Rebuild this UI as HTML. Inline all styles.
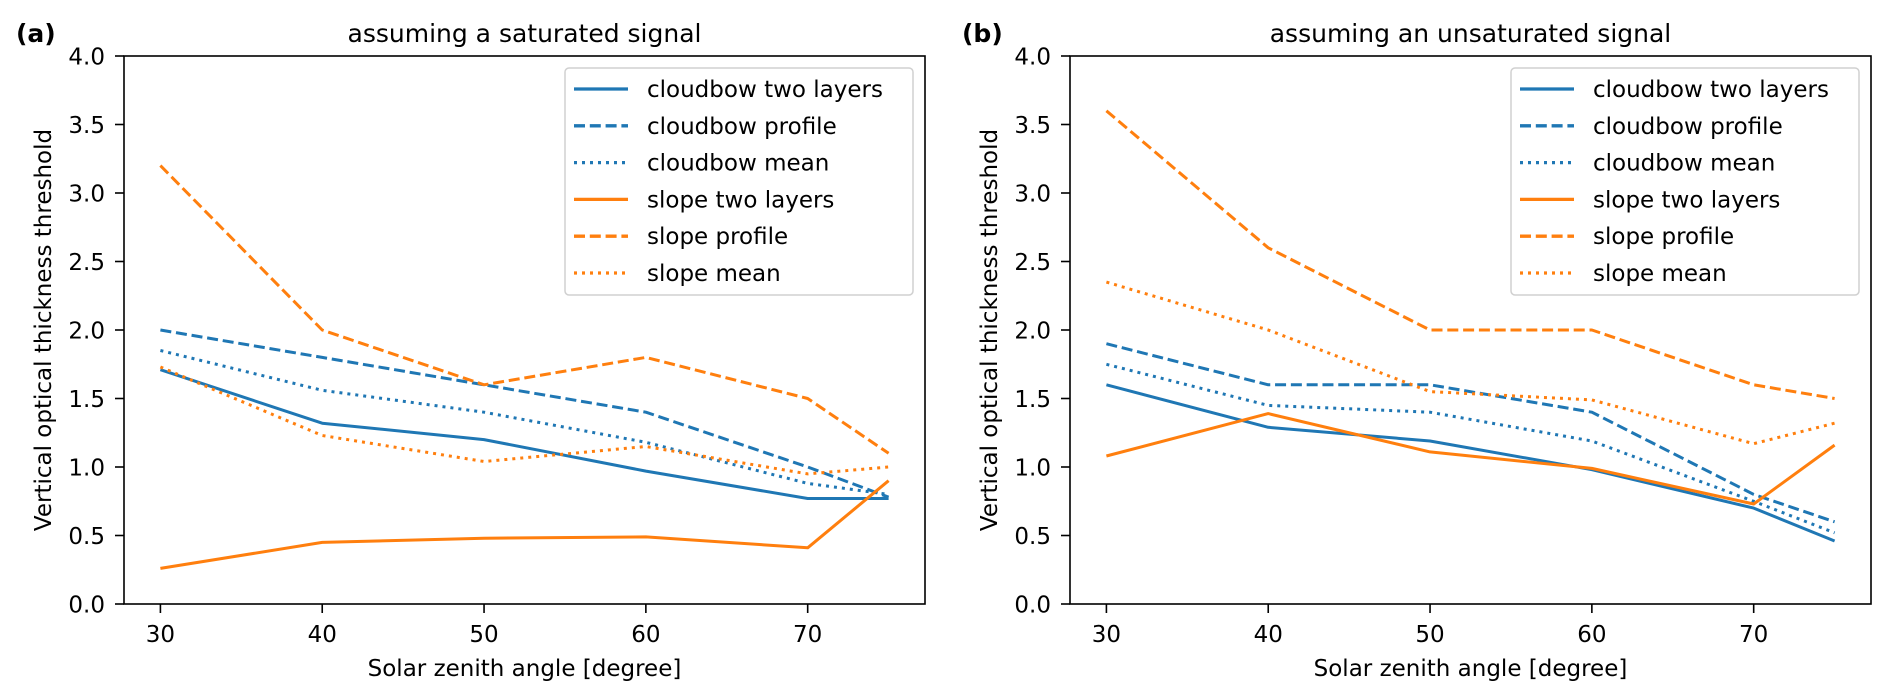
<!DOCTYPE html>
<html><head><meta charset="utf-8"><style>
html,body{margin:0;padding:0;background:#fff}
svg{display:block;font-family:"DejaVu Sans","Liberation Sans",sans-serif}
</style></head><body>
<svg id="chart" width="1892" height="700" viewBox="0 0 1892 700" xmlns="http://www.w3.org/2000/svg"></svg>
<script>
const xCats = [30, 40, 50, 60, 70, 75];
const xTicks = [30, 40, 50, 60, 70];
const yTicks = [0, 0.5, 1, 1.5, 2, 2.5, 3, 3.5, 4];
const seriesNames = ["cloudbow two layers","cloudbow profile","cloudbow mean","slope two layers","slope profile","slope mean"];
const a_cbTwo = [1.71,1.32,1.2,0.97,0.77,0.77];
const a_cbProf = [2.0,1.8,1.6,1.4,1.0,0.78];
const a_cbMean = [1.85,1.56,1.4,1.18,0.88,0.8];
const a_slTwo = [0.26,0.45,0.48,0.49,0.41,0.9];
const a_slProf = [3.2,2.0,1.6,1.8,1.5,1.1];
const a_slMean = [1.73,1.23,1.04,1.15,0.95,1.0];
const b_cbTwo = [1.6,1.29,1.19,0.98,0.7,0.46];
const b_cbProf = [1.9,1.6,1.6,1.4,0.8,0.6];
const b_cbMean = [1.75,1.45,1.4,1.19,0.75,0.52];
const b_slTwo = [1.08,1.39,1.11,0.99,0.73,1.16];
const b_slProf = [3.6,2.6,2.0,2.0,1.6,1.5];
const b_slMean = [2.35,2.0,1.55,1.49,1.17,1.32];

const NS="http://www.w3.org/2000/svg";
const svg=document.getElementById('chart');
function el(tag,attrs,parent,text){const e=document.createElementNS(NS,tag);for(const k in attrs)e.setAttribute(k,attrs[k]);if(text!==undefined)e.textContent=text;(parent||svg).appendChild(e);return e;}
const BLUE="#1f77b4",ORANGE="#ff7f0e";
const styles=[[BLUE,""],[BLUE,"11,4.8"],[BLUE,"3,5"],[ORANGE,""],[ORANGE,"11,4.8"],[ORANGE,"3,5"]];

function panel(pid,L,R,T,B,title,tag,series){
  const g=el('g',{});
  
  
  const xmin=27.75,xmax=77.25;
  const xs=v=>L+(v-xmin)/(xmax-xmin)*(R-L);
  const ys=v=>B-v/4*(B-T);
  series.forEach((s,i)=>{
    const pts=s.map((v,j)=>xs(xCats[j]).toFixed(1)+','+ys(v).toFixed(1)).join(' ');
    const p=el('polyline',{points:pts,fill:'none',stroke:styles[i][0],'stroke-width':3,'stroke-dasharray':styles[i][1],'stroke-linejoin':'round'},g);
    
    
  });
  const box=el('rect',{x:L,y:T,width:R-L,height:B-T,fill:'none',stroke:'#000','stroke-width':1.6},g);
  
  
  xTicks.forEach(t=>{
    const x=xs(t);
    el('line',{x1:x,x2:x,y1:B,y2:B+9,stroke:'#000','stroke-width':1.6},g);
    const tl=el('text',{x:x,y:B+38,'font-size':23,'text-anchor':'middle'},g,String(t));
    
    
  });
  yTicks.forEach(t=>{
    const y=ys(t);
    el('line',{x1:L-9,x2:L,y1:y,y2:y,stroke:'#000','stroke-width':1.6},g);
    const tl=el('text',{x:L-19,y:y+8.5,'font-size':23,'text-anchor':'end'},g,t.toFixed(1));
    
    
  });
  const xt=el('text',{x:(L+R)/2,y:676,'font-size':23,'text-anchor':'middle'},g,'Solar zenith angle [degree]');
  
  
  const yx=L-73, yy=(T+B)/2;
  const yt=el('text',{x:yx,y:yy,'font-size':23,'text-anchor':'middle',transform:`rotate(-90 ${yx} ${yy})`},g,'Vertical optical thickness threshold');
  
  
  const ti=el('text',{x:(L+R)/2,y:42,'font-size':25,'text-anchor':'middle'},g,title);
  
  
  const tg=el('text',{x:L-108,y:42,'font-size':25,'font-weight':'bold'},g,tag);
  
  
  const lg=el('g',{},g);
  
  
  const lx=R-360, ly=T+12;
  el('rect',{x:lx,y:ly,width:348,height:227,rx:4,fill:'#fff','fill-opacity':0.8,stroke:'#d0d0d0','stroke-width':1.5},lg);
  seriesNames.forEach((n,i)=>{
    const cy=ly+21+i*36.8;
    const e=el('g',{},lg);
    
    
    el('line',{x1:lx+9,x2:lx+63,y1:cy,y2:cy,stroke:styles[i][0],'stroke-width':3.3,'stroke-dasharray':styles[i][1]},e);
    el('text',{x:lx+82,y:cy+8,'font-size':23},e,n);
  });
}
panel('a',124,925,56,604,'assuming a saturated signal','(a)',[a_cbTwo,a_cbProf,a_cbMean,a_slTwo,a_slProf,a_slMean]);
panel('b',1070,1871,56,604,'assuming an unsaturated signal','(b)',[b_cbTwo,b_cbProf,b_cbMean,b_slTwo,b_slProf,b_slMean]);
</script>
</body></html>
